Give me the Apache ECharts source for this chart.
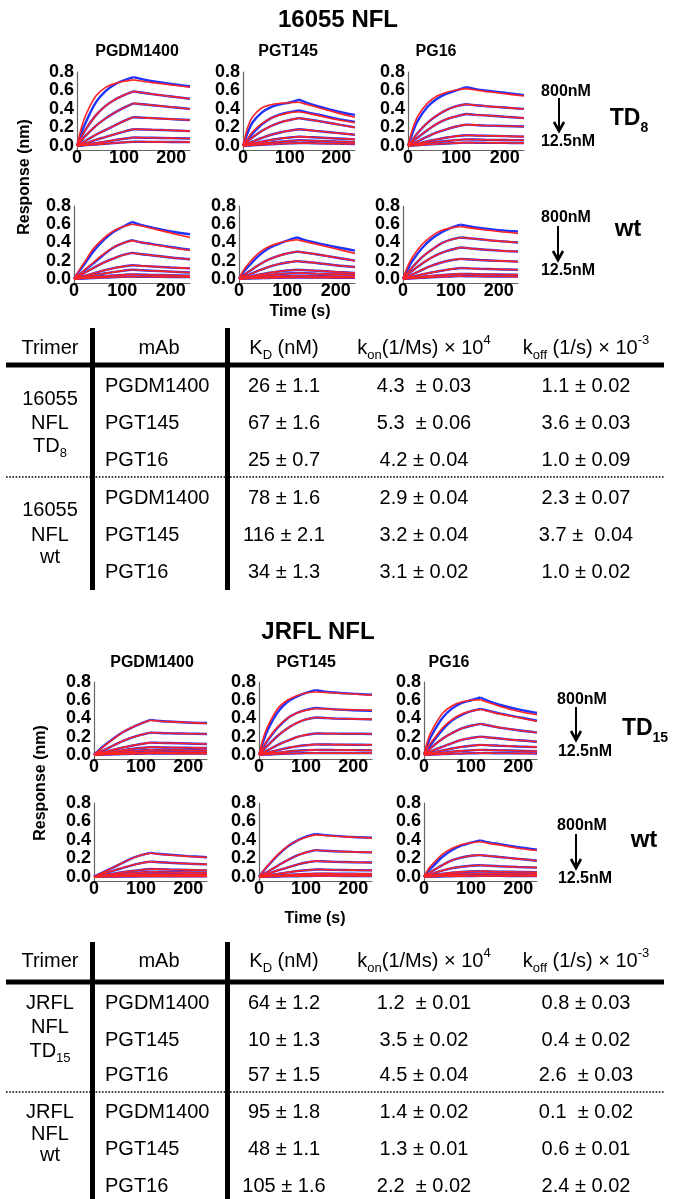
<!DOCTYPE html>
<html><head><meta charset="utf-8">
<script src="https://cdn.jsdelivr.net/npm/echarts@6/dist/echarts.min.js"></script>
<style>html,body{margin:0;padding:0;background:#fff}#c{width:676px;height:1199px}</style>
</head><body><div id="c"></div>
<script>
// ---------- time points (s) ----------
const T = [0, 10, 20, 40, 60, 80, 100, 120, 140, 160, 200, 240];
const xTickValues = [0, 100, 200];
const yTickValues = [0, 0.2, 0.4, 0.6, 0.8];

// ---------- 16055 NFL TD8 (fits, 800 -> 12.5 nM) ----------
const fit_TD8_PGDM1400 = [
  [0, 0.21, 0.35, 0.54, 0.63, 0.675, 0.70, 0.715, 0.70, 0.685, 0.66, 0.635],
  [0, 0.10, 0.19, 0.33, 0.43, 0.50, 0.55, 0.59, 0.575, 0.56, 0.535, 0.51],
  [0, 0.062, 0.118, 0.216, 0.295, 0.36, 0.414, 0.46, 0.45, 0.44, 0.42, 0.40],
  [0, 0.03, 0.06, 0.12, 0.17, 0.22, 0.27, 0.31, 0.305, 0.30, 0.29, 0.28],
  [0, 0.015, 0.03, 0.065, 0.095, 0.125, 0.155, 0.18, 0.177, 0.174, 0.168, 0.16],
  [0, 0.008, 0.015, 0.03, 0.046, 0.062, 0.077, 0.09, 0.088, 0.087, 0.084, 0.08],
  [0, 0.004, 0.008, 0.015, 0.023, 0.031, 0.038, 0.045, 0.044, 0.043, 0.042, 0.04]
];
const dat_TD8_PGDM1400 = [
  [0, 0.15, 0.27, 0.47, 0.59, 0.665, 0.71, 0.745, 0.72, 0.70, 0.67, 0.645]
];
const fit_TD8_PGT145 = [
  [0, 0.20, 0.31, 0.41, 0.445, 0.46, 0.468, 0.473, 0.445, 0.415, 0.36, 0.31],
  [0, 0.08, 0.15, 0.24, 0.30, 0.335, 0.36, 0.37, 0.35, 0.33, 0.285, 0.25],
  [0, 0.05, 0.09, 0.16, 0.215, 0.255, 0.28, 0.30, 0.285, 0.27, 0.235, 0.20],
  [0, 0.025, 0.045, 0.085, 0.12, 0.145, 0.165, 0.18, 0.17, 0.16, 0.14, 0.12],
  [0, 0.012, 0.025, 0.045, 0.065, 0.08, 0.09, 0.10, 0.095, 0.09, 0.08, 0.07],
  [0, 0.006, 0.012, 0.025, 0.035, 0.045, 0.053, 0.06, 0.057, 0.054, 0.047, 0.04],
  [0, 0.003, 0.006, 0.012, 0.018, 0.023, 0.027, 0.03, 0.029, 0.027, 0.024, 0.02]
];
const dat_TD8_PGT145 = [
  [0, 0.14, 0.25, 0.36, 0.42, 0.45, 0.47, 0.50, 0.46, 0.43, 0.375, 0.335],
  [0, 0.07, 0.13, 0.23, 0.30, 0.34, 0.365, 0.385, 0.36, 0.34, 0.295, 0.26]
];
const fit_TD8_PG16 = [
  [0, 0.19, 0.32, 0.46, 0.54, 0.58, 0.605, 0.62, 0.605, 0.59, 0.565, 0.54],
  [0, 0.07, 0.14, 0.25, 0.33, 0.39, 0.43, 0.45, 0.44, 0.43, 0.415, 0.40],
  [0, 0.05, 0.09, 0.17, 0.24, 0.29, 0.32, 0.345, 0.335, 0.33, 0.315, 0.30],
  [0, 0.025, 0.05, 0.10, 0.145, 0.18, 0.21, 0.23, 0.225, 0.22, 0.215, 0.21],
  [0, 0.012, 0.025, 0.05, 0.07, 0.09, 0.105, 0.115, 0.112, 0.11, 0.105, 0.10],
  [0, 0.007, 0.014, 0.028, 0.042, 0.053, 0.062, 0.07, 0.068, 0.066, 0.063, 0.06],
  [0, 0.004, 0.007, 0.014, 0.02, 0.025, 0.03, 0.035, 0.034, 0.033, 0.032, 0.03]
];
const dat_TD8_PG16 = [
  [0, 0.15, 0.27, 0.42, 0.51, 0.565, 0.60, 0.635, 0.615, 0.60, 0.575, 0.55]
];

// ---------- 16055 NFL wt ----------
const fit_wt1_PGDM1400 = [
  [0, 0.09, 0.17, 0.33, 0.44, 0.52, 0.57, 0.60, 0.58, 0.555, 0.505, 0.455],
  [0, 0.045, 0.09, 0.18, 0.27, 0.34, 0.39, 0.42, 0.40, 0.38, 0.345, 0.315],
  [0, 0.03, 0.06, 0.12, 0.175, 0.22, 0.26, 0.285, 0.27, 0.26, 0.235, 0.215],
  [0, 0.015, 0.03, 0.06, 0.09, 0.115, 0.135, 0.15, 0.143, 0.137, 0.125, 0.115],
  [0, 0.01, 0.02, 0.04, 0.057, 0.074, 0.088, 0.10, 0.095, 0.09, 0.08, 0.07],
  [0, 0.005, 0.01, 0.02, 0.029, 0.037, 0.044, 0.05, 0.047, 0.044, 0.04, 0.035],
  [0, 0.002, 0.005, 0.01, 0.014, 0.018, 0.022, 0.025, 0.024, 0.023, 0.021, 0.02]
];
const dat_wt1_PGDM1400 = [
  [0, 0.08, 0.15, 0.30, 0.42, 0.51, 0.57, 0.625, 0.59, 0.565, 0.52, 0.49],
  [0, 0.04, 0.085, 0.17, 0.26, 0.34, 0.39, 0.425, 0.40, 0.385, 0.35, 0.32]
];
const fit_wt1_PGT145 = [
  [0, 0.10, 0.17, 0.28, 0.35, 0.39, 0.415, 0.43, 0.405, 0.38, 0.33, 0.28],
  [0, 0.045, 0.08, 0.15, 0.21, 0.25, 0.28, 0.30, 0.285, 0.27, 0.235, 0.20],
  [0, 0.025, 0.045, 0.09, 0.13, 0.16, 0.18, 0.195, 0.185, 0.175, 0.15, 0.13],
  [0, 0.012, 0.023, 0.045, 0.065, 0.08, 0.092, 0.10, 0.095, 0.09, 0.077, 0.065],
  [0, 0.008, 0.015, 0.03, 0.042, 0.052, 0.06, 0.065, 0.062, 0.058, 0.052, 0.045],
  [0, 0.004, 0.008, 0.016, 0.023, 0.028, 0.032, 0.035, 0.033, 0.031, 0.028, 0.025],
  [0, 0.002, 0.004, 0.007, 0.01, 0.012, 0.014, 0.015, 0.015, 0.014, 0.013, 0.012]
];
const dat_wt1_PGT145 = [
  [0, 0.08, 0.14, 0.25, 0.33, 0.38, 0.42, 0.455, 0.42, 0.395, 0.35, 0.31]
];
const fit_wt1_PG16 = [
  [0, 0.14, 0.24, 0.38, 0.47, 0.53, 0.56, 0.575, 0.56, 0.545, 0.52, 0.50],
  [0, 0.07, 0.13, 0.24, 0.32, 0.39, 0.43, 0.455, 0.445, 0.435, 0.415, 0.40],
  [0, 0.05, 0.09, 0.17, 0.235, 0.285, 0.32, 0.345, 0.335, 0.325, 0.31, 0.30],
  [0, 0.025, 0.05, 0.10, 0.145, 0.18, 0.205, 0.22, 0.213, 0.207, 0.198, 0.19],
  [0, 0.012, 0.025, 0.05, 0.07, 0.09, 0.107, 0.12, 0.115, 0.111, 0.105, 0.10],
  [0, 0.006, 0.012, 0.024, 0.033, 0.042, 0.05, 0.055, 0.053, 0.051, 0.048, 0.045],
  [0, 0.003, 0.006, 0.012, 0.018, 0.023, 0.027, 0.03, 0.029, 0.028, 0.026, 0.025]
];
const dat_wt1_PG16 = [
  [0, 0.11, 0.20, 0.34, 0.44, 0.51, 0.56, 0.595, 0.575, 0.56, 0.535, 0.52]
];

// ---------- JRFL NFL TD15 ----------
const fit_TD15_PGDM1400 = [
  [0, 0.045, 0.09, 0.17, 0.245, 0.30, 0.345, 0.38, 0.37, 0.365, 0.355, 0.345],
  [0, 0.027, 0.05, 0.10, 0.15, 0.19, 0.22, 0.245, 0.24, 0.237, 0.233, 0.23],
  [0, 0.014, 0.027, 0.055, 0.08, 0.10, 0.12, 0.135, 0.132, 0.13, 0.125, 0.12],
  [0, 0.009, 0.017, 0.035, 0.05, 0.065, 0.076, 0.085, 0.083, 0.081, 0.078, 0.075],
  [0, 0.006, 0.011, 0.022, 0.032, 0.041, 0.048, 0.055, 0.054, 0.053, 0.051, 0.05],
  [0, 0.003, 0.006, 0.012, 0.018, 0.022, 0.026, 0.03, 0.03, 0.029, 0.028, 0.028],
  [0, 0.002, 0.003, 0.006, 0.009, 0.011, 0.013, 0.015, 0.015, 0.015, 0.014, 0.014]
];
const dat_TD15_PGDM1400 = [
  [0, 0.05, 0.095, 0.175, 0.245, 0.30, 0.345, 0.385, 0.372, 0.366, 0.356, 0.35]
];
const fit_TD15_PGT145 = [
  [0, 0.20, 0.33, 0.51, 0.60, 0.65, 0.68, 0.69, 0.685, 0.68, 0.668, 0.655],
  [0, 0.10, 0.18, 0.31, 0.40, 0.46, 0.49, 0.51, 0.505, 0.50, 0.495, 0.49],
  [0, 0.06, 0.11, 0.21, 0.29, 0.35, 0.39, 0.41, 0.405, 0.40, 0.395, 0.39],
  [0, 0.03, 0.055, 0.11, 0.155, 0.195, 0.22, 0.235, 0.234, 0.233, 0.232, 0.23],
  [0, 0.014, 0.027, 0.053, 0.076, 0.094, 0.106, 0.115, 0.114, 0.113, 0.112, 0.11],
  [0, 0.007, 0.013, 0.025, 0.036, 0.045, 0.051, 0.055, 0.054, 0.053, 0.052, 0.05],
  [0, 0.003, 0.005, 0.01, 0.014, 0.017, 0.019, 0.02, 0.02, 0.02, 0.02, 0.02]
];
const dat_TD15_PGT145 = [
  [0, 0.16, 0.29, 0.47, 0.58, 0.64, 0.68, 0.71, 0.695, 0.685, 0.672, 0.66],
  [0, 0.09, 0.17, 0.30, 0.40, 0.46, 0.495, 0.515, 0.508, 0.50, 0.49, 0.485]
];
const fit_TD15_PG16 = [
  [0, 0.19, 0.30, 0.46, 0.54, 0.58, 0.60, 0.605, 0.57, 0.535, 0.48, 0.44],
  [0, 0.10, 0.17, 0.30, 0.39, 0.45, 0.48, 0.50, 0.475, 0.45, 0.41, 0.37],
  [0, 0.05, 0.10, 0.18, 0.24, 0.29, 0.32, 0.34, 0.32, 0.30, 0.27, 0.245],
  [0, 0.025, 0.05, 0.09, 0.13, 0.165, 0.185, 0.20, 0.19, 0.18, 0.16, 0.145],
  [0, 0.013, 0.025, 0.05, 0.07, 0.088, 0.10, 0.11, 0.105, 0.10, 0.092, 0.085],
  [0, 0.006, 0.012, 0.024, 0.035, 0.044, 0.05, 0.055, 0.052, 0.05, 0.045, 0.04],
  [0, 0.002, 0.004, 0.008, 0.012, 0.015, 0.018, 0.02, 0.019, 0.018, 0.017, 0.015]
];
const dat_TD15_PG16 = [
  [0, 0.15, 0.25, 0.41, 0.51, 0.57, 0.60, 0.63, 0.585, 0.55, 0.50, 0.46],
  [0, 0.08, 0.15, 0.28, 0.38, 0.44, 0.48, 0.505, 0.48, 0.455, 0.415, 0.375]
];

// ---------- JRFL NFL wt ----------
const fit_wt2_PGDM1400 = [
  [0, 0.025, 0.05, 0.10, 0.15, 0.20, 0.235, 0.255, 0.245, 0.237, 0.222, 0.21],
  [0, 0.017, 0.033, 0.065, 0.095, 0.125, 0.148, 0.165, 0.158, 0.152, 0.143, 0.135],
  [0, 0.009, 0.017, 0.034, 0.05, 0.063, 0.075, 0.085, 0.082, 0.079, 0.075, 0.07],
  [0, 0.005, 0.01, 0.02, 0.03, 0.04, 0.048, 0.055, 0.053, 0.051, 0.048, 0.045],
  [0, 0.003, 0.006, 0.012, 0.018, 0.023, 0.027, 0.03, 0.029, 0.028, 0.027, 0.025],
  [0, 0.0015, 0.003, 0.006, 0.009, 0.011, 0.013, 0.015, 0.015, 0.014, 0.014, 0.013],
  [0, 0.001, 0.001, 0.002, 0.003, 0.004, 0.005, 0.005, 0.005, 0.005, 0.005, 0.005]
];
const dat_wt2_PGDM1400 = [
  [0, 0.027, 0.052, 0.10, 0.15, 0.20, 0.235, 0.26, 0.248, 0.24, 0.225, 0.213]
];
const fit_wt2_PGT145 = [
  [0, 0.07, 0.13, 0.24, 0.33, 0.39, 0.43, 0.455, 0.448, 0.44, 0.43, 0.42],
  [0, 0.03, 0.06, 0.12, 0.18, 0.23, 0.265, 0.29, 0.283, 0.278, 0.27, 0.265],
  [0, 0.018, 0.035, 0.07, 0.10, 0.13, 0.155, 0.17, 0.167, 0.163, 0.158, 0.155],
  [0, 0.008, 0.016, 0.032, 0.048, 0.062, 0.072, 0.08, 0.078, 0.076, 0.073, 0.07],
  [0, 0.004, 0.007, 0.014, 0.021, 0.027, 0.032, 0.035, 0.035, 0.034, 0.033, 0.032],
  [0, 0.002, 0.004, 0.008, 0.012, 0.015, 0.018, 0.02, 0.02, 0.019, 0.019, 0.018],
  [0, 0.001, 0.002, 0.004, 0.006, 0.007, 0.009, 0.01, 0.01, 0.01, 0.009, 0.009]
];
const dat_wt2_PGT145 = [
  [0, 0.065, 0.125, 0.235, 0.325, 0.39, 0.435, 0.465, 0.452, 0.444, 0.432, 0.425]
];
const fit_wt2_PG16 = [
  [0, 0.09, 0.15, 0.25, 0.31, 0.35, 0.37, 0.38, 0.36, 0.345, 0.31, 0.285],
  [0, 0.04, 0.07, 0.13, 0.18, 0.21, 0.228, 0.235, 0.225, 0.215, 0.195, 0.175],
  [0, 0.02, 0.038, 0.07, 0.095, 0.11, 0.12, 0.125, 0.12, 0.115, 0.107, 0.10],
  [0, 0.01, 0.018, 0.034, 0.046, 0.054, 0.058, 0.06, 0.058, 0.056, 0.053, 0.05],
  [0, 0.006, 0.011, 0.02, 0.027, 0.031, 0.034, 0.035, 0.034, 0.033, 0.031, 0.03],
  [0, 0.003, 0.005, 0.009, 0.012, 0.014, 0.015, 0.015, 0.015, 0.015, 0.014, 0.014],
  [0, 0.002, 0.003, 0.006, 0.007, 0.008, 0.009, 0.01, 0.01, 0.01, 0.009, 0.009]
];
const dat_wt2_PG16 = [
  [0, 0.07, 0.12, 0.22, 0.29, 0.34, 0.37, 0.395, 0.37, 0.355, 0.32, 0.295]
];

// ---------- tables ----------
const mAbNames = ['PGDM1400', 'PGT145', 'PGT16'];
const t1_KD   = ['26 ± 1.1', '67 ± 1.6', '25 ± 0.7', '78 ± 1.6', '116 ± 2.1', '34 ± 1.3'];
const t1_kon  = ['4.3  ± 0.03', '5.3  ± 0.06', '4.2 ± 0.04', '2.9 ± 0.04', '3.2 ± 0.04', '3.1 ± 0.02'];
const t1_koff = ['1.1 ± 0.02', '3.6 ± 0.03', '1.0 ± 0.09', '2.3 ± 0.07', '3.7 ±  0.04', '1.0 ± 0.02'];
const t2_KD   = ['64 ± 1.2', '10 ± 1.3', '57 ± 1.5', '95 ± 1.8', '48 ± 1.1', '105 ± 1.6'];
const t2_kon  = ['1.2  ± 0.01', '3.5 ± 0.02', '4.5 ± 0.04', '1.4 ± 0.02', '1.3 ± 0.01', '2.2  ± 0.02'];
const t2_koff = ['0.8 ± 0.03', '0.4 ± 0.02', '2.6  ± 0.03', '0.1  ± 0.02', '0.6 ± 0.01', '2.4 ± 0.02'];

// ================= rendering =================
const FONT = '"Liberation Sans", Arial, Helvetica, sans-serif';
const BLUE = '#1f33ff', RED = '#ff2323';

const panels = [
  {fit: fit_TD8_PGDM1400, dat: dat_TD8_PGDM1400, left: 77,  top: 72,  width: 113, height: 78},
  {fit: fit_TD8_PGT145,   dat: dat_TD8_PGT145,   left: 243, top: 72,  width: 112, height: 78},
  {fit: fit_TD8_PG16,     dat: dat_TD8_PG16,     left: 408, top: 72,  width: 116, height: 78},
  {fit: fit_wt1_PGDM1400, dat: dat_wt1_PGDM1400, left: 74,  top: 206, width: 116, height: 77},
  {fit: fit_wt1_PGT145,   dat: dat_wt1_PGT145,   left: 239, top: 206, width: 116, height: 77},
  {fit: fit_wt1_PG16,     dat: dat_wt1_PG16,     left: 403, top: 206, width: 115, height: 77},
  {fit: fit_TD15_PGDM1400,dat: dat_TD15_PGDM1400,left: 94,  top: 682, width: 113, height: 77},
  {fit: fit_TD15_PGT145,  dat: dat_TD15_PGT145,  left: 259, top: 682, width: 113, height: 77},
  {fit: fit_TD15_PG16,    dat: dat_TD15_PG16,    left: 424, top: 682, width: 113, height: 77},
  {fit: fit_wt2_PGDM1400, dat: dat_wt2_PGDM1400, left: 94,  top: 803, width: 113, height: 78},
  {fit: fit_wt2_PGT145,   dat: dat_wt2_PGT145,   left: 259, top: 803, width: 113, height: 78},
  {fit: fit_wt2_PG16,     dat: dat_wt2_PG16,     left: 424, top: 803, width: 113, height: 78}
];

const grid = [], xAxis = [], yAxis = [], series = [];
const tickFont = {fontFamily: FONT, fontWeight: 'bold', fontSize: 18, color: '#000'};
panels.forEach((p, gi) => {
  grid.push({left: p.left, top: p.top, width: p.width, height: p.height, containLabel: false});
  xAxis.push({type: 'value', gridIndex: gi, min: 0, max: 240, interval: 100,
    axisLine: {onZero: false, lineStyle: {color: '#666', width: 1.2}},
    axisTick: {show: false}, splitLine: {show: false},
    axisLabel: Object.assign({margin: -1, customValues: xTickValues}, tickFont)});
  yAxis.push({type: 'value', gridIndex: gi, min: -0.045, max: 0.8,
    axisLine: {show: true, lineStyle: {color: '#666', width: 1.2}},
    axisTick: {show: false}, splitLine: {show: false},
    axisLabel: Object.assign({margin: 3, customValues: yTickValues,
      formatter: v => v.toFixed(1)}, tickFont)});
  ['dat', 'fit'].forEach(kind => {
    const curves = p.fit.map((c, i) => kind === 'fit' ? c : (p.dat[i] || c));
    curves.forEach(vals => {
      [[0, 7], [7, T.length - 1]].forEach(([a, b]) => {
        const d = [];
        for (let i = a; i <= b; i++) d.push([T[i], vals[i]]);
        series.push({type: 'line', xAxisIndex: gi, yAxisIndex: gi, data: d,
          smooth: 0.35, symbol: 'none', silent: true, animation: false,
          lineStyle: {color: kind === 'fit' ? RED : BLUE, width: kind === 'fit' ? 1.6 : 2.4},
          z: kind === 'fit' ? 4 : 3});
      });
    });
  });
});

// ---------- graphic helpers ----------
const G = [];
function txt(x, y, text, size, weight, align, extra) {
  G.push({type: 'text', x, y, z: 10, style: Object.assign({text, fill: '#000', fontFamily: FONT,
    fontSize: size, fontWeight: weight || 'normal', align: align || 'center', verticalAlign: 'middle'}, extra || {})});
}
function rich(x, y, text, size, weight, subSize, align) {
  const lh = Math.round(size * 1.4);
  G.push({type: 'text', x, y, z: 10, style: {text, align: align || 'center', verticalAlign: 'middle',
    fontFamily: FONT, fontSize: size, fontWeight: weight, fill: '#000',
    rich: {
      m: {fontFamily: FONT, fontSize: size, fontWeight: weight, fill: '#000', lineHeight: lh},
      s: {fontFamily: FONT, fontSize: subSize, fontWeight: weight, fill: '#000', lineHeight: subSize, verticalAlign: 'bottom'},
      p: {fontFamily: FONT, fontSize: subSize, fontWeight: weight, fill: '#000', lineHeight: subSize, verticalAlign: 'top'}
    }}});
}
function rect(x, y, w, h) {
  G.push({type: 'rect', z: 10, shape: {x, y, width: w, height: h}, style: {fill: '#000'}});
}
function dotted(x1, x2, y) {
  G.push({type: 'line', z: 10, shape: {x1, y1: y, x2, y2: y}, style: {stroke: '#000', lineWidth: 1.6, lineDash: [1.6, 1.6]}});
}
function arrow(x, y1, y2) {
  G.push({type: 'line', z: 10, shape: {x1: x, y1, x2: x, y2: y2 - 1}, style: {stroke: '#000', lineWidth: 2}});
  G.push({type: 'polyline', z: 10, shape: {points: [[x - 5, y2 - 9], [x, y2], [x + 5, y2 - 9]]},
    style: {stroke: '#000', lineWidth: 2.6, fill: null}});
}

// ---------- section 1 texts ----------
txt(338, 20, '16055 NFL', 24, 'bold');
txt(137, 52, 'PGDM1400', 16, 'bold');
txt(288, 52, 'PGT145', 16, 'bold');
txt(436, 52, 'PG16', 16, 'bold');
G.push({type: 'text', x: 25, y: 177, rotation: Math.PI / 2, z: 10,
  style: {text: 'Response (nm)', fill: '#000', fontFamily: FONT, fontSize: 16, fontWeight: 'bold', align: 'center', verticalAlign: 'middle'}});
txt(300, 312, 'Time (s)', 16, 'bold');
txt(566, 92, '800nM', 16, 'bold');
arrow(559, 98, 131);
txt(568, 142, '12.5nM', 16, 'bold');
rich(629, 119, '{m|TD}{s|8}', 23, 'bold', 14);
txt(566, 218, '800nM', 16, 'bold');
arrow(558, 226, 260);
txt(568, 271, '12.5nM', 16, 'bold');
txt(628, 229, 'wt', 24, 'bold');

// ---------- section 2 texts ----------
txt(318, 632, 'JRFL NFL', 24, 'bold');
txt(152, 663, 'PGDM1400', 16, 'bold');
txt(306, 663, 'PGT145', 16, 'bold');
txt(449, 663, 'PG16', 16, 'bold');
G.push({type: 'text', x: 41, y: 783, rotation: Math.PI / 2, z: 10,
  style: {text: 'Response (nm)', fill: '#000', fontFamily: FONT, fontSize: 16, fontWeight: 'bold', align: 'center', verticalAlign: 'middle'}});
txt(315, 919, 'Time (s)', 16, 'bold');
txt(582, 700, '800nM', 16, 'bold');
arrow(576, 707, 740);
txt(585, 752, '12.5nM', 16, 'bold');
rich(645, 729, '{m|TD}{s|15}', 23, 'bold', 14);
txt(582, 826, '800nM', 16, 'bold');
arrow(576, 834, 868);
txt(585, 879, '12.5nM', 16, 'bold');
txt(644, 840, 'wt', 24, 'bold');

// ---------- tables ----------
function table(hy, lineY, vTop, vBot, rowsY, dotY, groups, KD, kon, koff) {
  txt(50, hy, 'Trimer', 20);
  txt(159, hy, 'mAb', 20);
  rich(284, hy, '{m|K}{s|D}{m| (nM)}', 20, 'normal', 13);
  rich(424, hy, '{m|k}{s|on}{m|(1/Ms) × 10}{p|4}', 20, 'normal', 13);
  rich(586, hy, '{m|k}{s|off}{m| (1/s) × 10}{p|-3}', 20, 'normal', 13);
  rect(6, lineY - 2.5, 658, 5);
  rect(90, vTop, 5, vBot - vTop);
  rect(225, vTop, 5, vBot - vTop);
  dotted(6, 664, dotY);
  rowsY.forEach((y, i) => {
    txt(105, y, mAbNames[i % 3], 20, 'normal', 'left');
    txt(284, y, KD[i], 20);
    txt(424, y, kon[i], 20);
    txt(586, y, koff[i], 20);
  });
  groups.forEach(g => g.lines.forEach((s, j) => {
    if (s.indexOf('{') >= 0) rich(50, g.y[j], s, 20, 'normal', 13);
    else txt(50, g.y[j], s, 20);
  }));
}
table(348, 365, 328, 590, [386, 423, 460, 498, 535, 572], 477,
  [{lines: ['16055', 'NFL', '{m|TD}{s|8}'], y: [399, 423, 446]},
   {lines: ['16055', 'NFL', 'wt'], y: [510, 535, 557]}],
  t1_KD, t1_kon, t1_koff);
table(961, 982, 942, 1199, [1003, 1040, 1075, 1112, 1149, 1186], 1092,
  [{lines: ['JRFL', 'NFL', '{m|TD}{s|15}'], y: [1003, 1027, 1051]},
   {lines: ['JRFL', 'NFL', 'wt'], y: [1112, 1134, 1155]}],
  t2_KD, t2_kon, t2_koff);

const chart = echarts.init(document.getElementById('c'), null, {renderer: 'canvas'});
chart.setOption({animation: false, backgroundColor: '#fff', grid, xAxis, yAxis, series, graphic: G});
</script>
</body></html>
